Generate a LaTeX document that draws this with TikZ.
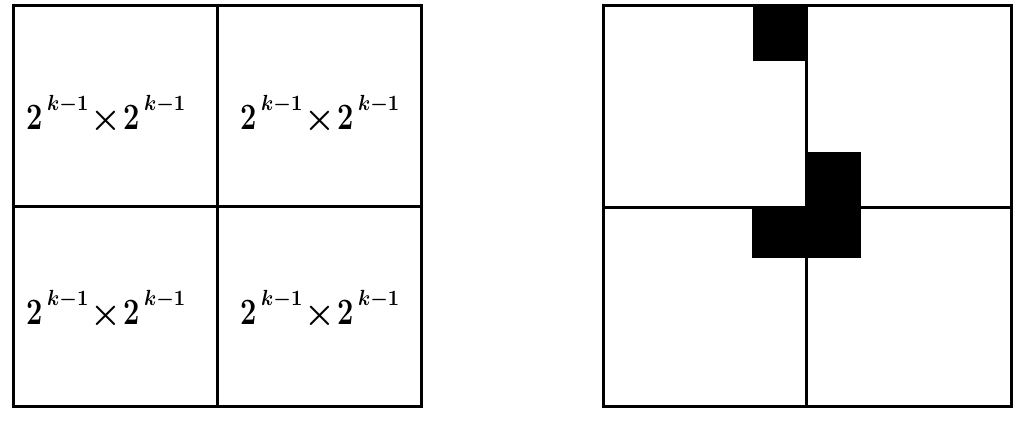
\documentclass[tikz,border=0pt]{standalone}
\usepackage{graphicx}
\newcommand\mytwo{\scalebox{0.78}[1]{\fontsize{18.6}{20}\selectfont\bfseries 2}}
\newcommand\mysup{\raisebox{9.5pt}{\scalebox{0.9}[1]{\fontsize{11}{11}\selectfont\boldmath$k{-}1$}}}
\newcommand\mytimes{{\fontsize{16}{18}\selectfont\boldmath$\times$}}
\newcommand\mylab{\mytwo\hspace{2.2pt}\mysup\hspace{1pt}\mytimes\hspace{1pt}\mytwo\hspace{2.2pt}\mysup}
\begin{document}
\begin{tikzpicture}[x=0.5pt,y=-0.5pt,
  frame/.style={line width=1.5pt,line join=miter},
  blk/.style={fill=black},
  lbl/.style={anchor=base west,inner sep=0pt}]
\useasboundingbox[fill=white] (0,0) rectangle (1022,420);
% left square
\draw[frame] (13,5) rectangle (421,406);
\draw[frame] (217,5) -- (217,406);
\draw[frame] (13,206) -- (421,206);
\node[lbl] (t1) at (26,129) {\mylab};
\node[lbl] (t2) at (240,129) {\mylab};
\node[lbl] (t3) at (26,324) {\mylab};
\node[lbl] (t4) at (240,324) {\mylab};
% right square
\draw[frame] (603,5) rectangle (1011,406);
\draw[frame] (806,5) -- (806,406);
\draw[frame] (603,207) -- (1011,207);
\fill[blk] (753,5) rectangle (807,61);
\fill[blk] (807,152) rectangle (861,207);
\fill[blk] (752,207) rectangle (861,258);
\end{tikzpicture}
\end{document}
